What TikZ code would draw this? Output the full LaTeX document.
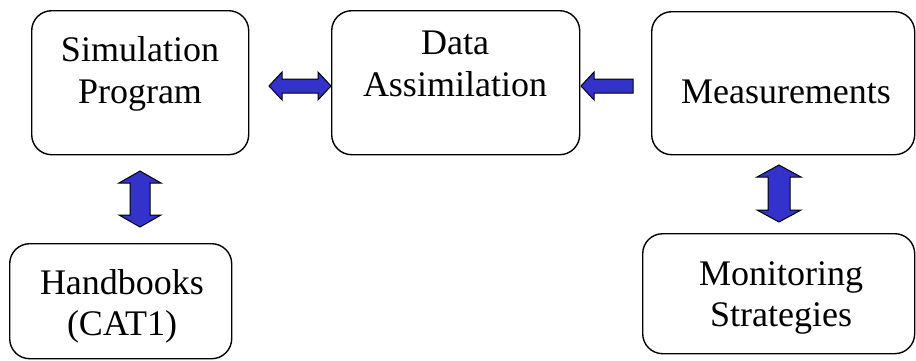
\documentclass[tikz,border=0pt]{standalone}
\usepackage{fontspec}
\setmainfont{Liberation Serif}
\usetikzlibrary{calc}
\definecolor{arrowblue}{RGB}{51,51,204}
\begin{document}
\begin{tikzpicture}[x=1pt,y=-1pt,
  box/.style={draw=black, line width=1.4pt, rounded corners=20pt, inner sep=0pt, anchor=north west},
  lbl/.style={font=\fontsize{36}{42}\selectfont, inner sep=0pt, anchor=base},
  blockarrow/.style={fill=arrowblue, draw=black, line width=1pt, line join=miter}]
\useasboundingbox (0,0) rectangle (916,360);

% boxes
\node[box, minimum width=217pt, minimum height=144pt] (sim)  at (31,10)  {};
\node[box, minimum width=248pt, minimum height=144pt] (data) at (331,10) {};
\node[box, minimum width=263pt, minimum height=143pt] (meas) at (651,11) {};
\node[box, minimum width=222pt, minimum height=115pt] (hand) at (9,243)  {};
\node[box, minimum width=272pt, minimum height=120pt] (mon)  at (642,233) {};

% box texts
\node[lbl] (sim1)  at (140,61)  {Simulation};
\node[lbl] (sim2)  at (140,103) {Program};
\node[lbl] (data1) at (455,54)  {Data};
\node[lbl] (data2) at (455,96)  {Assimilation};
\node[lbl] (meas1) at (786,103) {Measurements};
\node[lbl] (hand1) at (122,294) {Handbooks};
\node[lbl] (hand2) at (122,335) {(CAT1)};
\node[lbl] (mon1)  at (781,285) {Monitoring};
\node[lbl] (mon2)  at (781,326) {Strategies};

% block arrow ends
\coordinate (a1) at (269,86);  \coordinate (a2) at (331,86);
\coordinate (b1) at (581,86);  \coordinate (b2) at (633,86);
\coordinate (c1) at (140,171); \coordinate (c2) at (140,227);
\coordinate (d1) at (779,165); \coordinate (d2) at (779,222);

% Simulation Program <-> Data Assimilation
\filldraw[blockarrow] (a1) -- ++(13,-14) -- ++(0,7) -- ($(a2)+(-13,-7)$) -- ++(0,-7)
  -- (a2) -- ++(-13,14) -- ++(0,-7) -- ($(a1)+(13,7)$) -- ++(0,7) -- cycle;
% Measurements -> Data Assimilation
\filldraw[blockarrow] (b1) -- ++(13,-14) -- ++(0,7) -- ($(b2)+(0,-7)$) -- ++(0,14)
  -- ($(b1)+(13,7)$) -- ++(0,7) -- cycle;
% Simulation Program <-> Handbooks
\filldraw[blockarrow] (c1) -- ++(21,12) -- ++(-11,0) -- ($(c2)+(10,-12)$) -- ++(11,0)
  -- (c2) -- ++(-21,-12) -- ++(11,0) -- ($(c1)+(-10,12)$) -- ++(-11,0) -- cycle;
% Measurements <-> Monitoring Strategies
\filldraw[blockarrow] (d1) -- ++(22,12) -- ++(-11,0) -- ($(d2)+(11,-12)$) -- ++(11,0)
  -- (d2) -- ++(-22,-12) -- ++(11,0) -- ($(d1)+(-11,12)$) -- ++(-11,0) -- cycle;
\end{tikzpicture}
\end{document}
